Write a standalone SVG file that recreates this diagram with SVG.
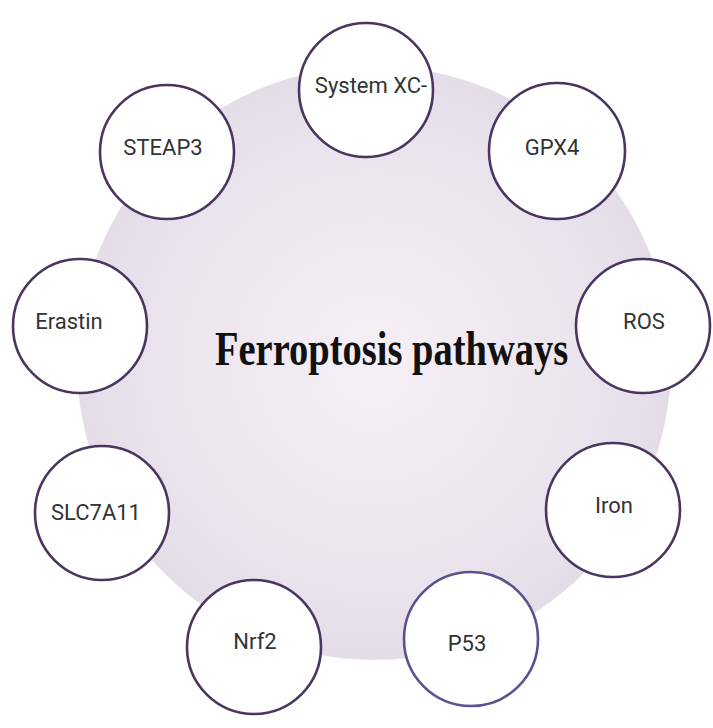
<svg xmlns="http://www.w3.org/2000/svg" width="713" height="728" viewBox="0 0 713 728">
<defs>
<radialGradient id="bg" cx="374" cy="363" r="297" gradientUnits="userSpaceOnUse">
<stop offset="0" stop-color="#f6eff6"/>
<stop offset="0.6" stop-color="#eee6ef"/>
<stop offset="1" stop-color="#e4dde8"/>
</radialGradient>
<style>
.node circle{fill:#ffffff;stroke:#4a3560;stroke-width:2.6}
.node text{font-family:Roboto,"Liberation Sans",sans-serif;font-size:22px;fill:#333333;text-anchor:middle}
.title{font-family:"Liberation Serif","Times New Roman",serif;font-weight:bold;font-size:38.5px;fill:#111111}
</style>
</defs>
<rect width="713" height="728" fill="#ffffff"/>
<g id="hub">
<circle cx="374" cy="363" r="297" fill="url(#bg)"/>
<text class="title" transform="translate(215,365) scale(1,1.24)" x="0" y="0">Ferroptosis pathways</text>
</g>
<g id="connectors"></g>
<g id="system-xc" class="node"><circle cx="366" cy="90" r="67"/><text x="371" y="93">System XC-</text></g>
<g id="gpx4" class="node"><circle cx="557" cy="151" r="68"/><text x="552" y="155">GPX4</text></g>
<g id="ros" class="node"><circle cx="643" cy="326" r="67"/><text x="644" y="329">ROS</text></g>
<g id="iron" class="node"><circle cx="613" cy="510" r="67"/><text x="614" y="513">Iron</text></g>
<g id="p53" class="node"><circle cx="471" cy="639" r="67" style="stroke:#5a5290"/><text x="467" y="651">P53</text></g>
<g id="nrf2" class="node"><circle cx="254" cy="647" r="67"/><text x="255" y="649">Nrf2</text></g>
<g id="slc7a11" class="node"><circle cx="102" cy="513" r="67"/><text x="96" y="520">SLC7A11</text></g>
<g id="erastin" class="node"><circle cx="80" cy="326" r="67"/><text x="69" y="329">Erastin</text></g>
<g id="steap3" class="node"><circle cx="167" cy="152" r="67"/><text x="163" y="155">STEAP3</text></g>
</svg>
